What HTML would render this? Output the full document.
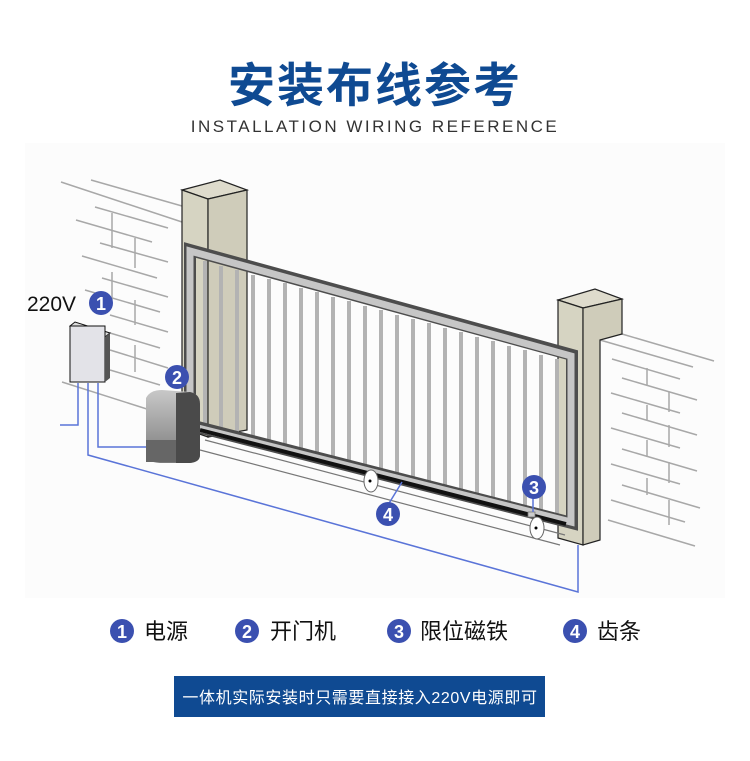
<!DOCTYPE html>
<html><head><meta charset="utf-8"><style>
body{margin:0;background:#fff;width:750px;height:756px;overflow:hidden;font-family:"Liberation Sans","Noto Sans CJK SC",sans-serif}
</style></head><body>
<svg width="750" height="756" viewBox="0 0 750 756" xmlns="http://www.w3.org/2000/svg">
<rect x="25" y="143" width="700" height="455" fill="#fcfcfc"/>
<text x="375" y="102" text-anchor="middle" font-family="Liberation Sans,Noto Sans CJK SC,sans-serif" font-size="47" font-weight="bold" fill="#0f4a92" letter-spacing="2">安装布线参考</text>
<text x="375" y="132" text-anchor="middle" font-family="Liberation Sans,sans-serif" font-size="17" fill="#333" letter-spacing="2.5">INSTALLATION WIRING REFERENCE</text>

<g stroke="#a8a8a8" stroke-width="1.5" fill="none">
<line x1="61" y1="182" x2="182" y2="222"/><line x1="91" y1="180" x2="182" y2="206"/>
<line x1="95" y1="207" x2="168" y2="228"/><line x1="76" y1="220" x2="152" y2="242"/>
<line x1="100" y1="243" x2="168" y2="262"/><line x1="82" y1="256" x2="157" y2="278"/>
<line x1="102" y1="278" x2="168" y2="297"/><line x1="85" y1="290" x2="160" y2="312"/>
<line x1="110" y1="315" x2="168" y2="332"/><line x1="110" y1="333" x2="160" y2="348"/>
<line x1="110" y1="350" x2="168" y2="368"/><line x1="110" y1="370" x2="160" y2="385"/>
<line x1="62" y1="382" x2="150" y2="410"/>
<line x1="112" y1="213" x2="112" y2="248"/><line x1="135" y1="238" x2="135" y2="268"/>
<line x1="112" y1="272" x2="112" y2="300"/><line x1="135" y1="300" x2="135" y2="325"/>
<line x1="135" y1="345" x2="135" y2="372"/>
</g>
<g stroke="#a8a8a8" stroke-width="1.5" fill="none">
<line x1="622" y1="334" x2="714" y2="361"/><line x1="600" y1="340" x2="693" y2="367"/>
<line x1="612" y1="359" x2="680" y2="379"/><line x1="622" y1="378" x2="697" y2="400"/>
<line x1="611" y1="393" x2="680" y2="413"/><line x1="622" y1="413" x2="697" y2="435"/>
<line x1="611" y1="428" x2="680" y2="448"/><line x1="622" y1="449" x2="697" y2="471"/>
<line x1="611" y1="464" x2="680" y2="484"/><line x1="622" y1="485" x2="700" y2="508"/>
<line x1="611" y1="500" x2="685" y2="522"/><line x1="608" y1="520" x2="695" y2="546"/>
<line x1="647" y1="368" x2="647" y2="385"/><line x1="669" y1="392" x2="669" y2="412"/>
<line x1="647" y1="405" x2="647" y2="420"/><line x1="669" y1="425" x2="669" y2="447"/>
<line x1="647" y1="440" x2="647" y2="457"/><line x1="669" y1="462" x2="669" y2="483"/>
<line x1="647" y1="478" x2="647" y2="495"/><line x1="669" y1="500" x2="669" y2="525"/>
</g>
<polygon points="182,190 220,180 247,190 208,199" fill="#dedbcc" stroke="#222" stroke-width="1.2"/>
<polygon points="182,190 208,199 208,437 182,428" fill="#d6d4c2" stroke="#222" stroke-width="1.2"/>
<polygon points="208,199 247,190 247,430 208,437" fill="#cfccba" stroke="#222" stroke-width="1.2"/>
<polygon points="558,300 595,289 622,299 583,308" fill="#dedbcc" stroke="#222" stroke-width="1.2"/>
<polygon points="558,300 583,308 583,545 558,538" fill="#d6d4c2" stroke="#222" stroke-width="1.2"/>
<polygon points="583,308 622,299 622,334 600,340 600,540 583,545" fill="#cfccba" stroke="#222" stroke-width="1.2"/>
<g stroke="#777" stroke-width="1.2">
<line x1="205" y1="440" x2="565" y2="535"/><line x1="200" y1="450" x2="560" y2="545"/>
</g>
<g stroke="#b3b3b3" stroke-width="4">
<line x1="205" y1="261" x2="205" y2="426"/><line x1="221" y1="266" x2="221" y2="430"/>
<line x1="237" y1="270" x2="237" y2="434"/><line x1="253" y1="275" x2="253" y2="438"/>
<line x1="269" y1="279" x2="269" y2="442"/><line x1="285" y1="283" x2="285" y2="446"/>
<line x1="301" y1="288" x2="301" y2="450"/><line x1="317" y1="292" x2="317" y2="454"/>
<line x1="333" y1="297" x2="333" y2="458"/><line x1="349" y1="301" x2="349" y2="462"/>
<line x1="365" y1="306" x2="365" y2="466"/><line x1="381" y1="310" x2="381" y2="470"/>
<line x1="397" y1="315" x2="397" y2="474"/><line x1="413" y1="319" x2="413" y2="478"/>
<line x1="429" y1="323" x2="429" y2="482"/><line x1="445" y1="328" x2="445" y2="486"/>
<line x1="461" y1="332" x2="461" y2="490"/><line x1="477" y1="337" x2="477" y2="494"/>
<line x1="493" y1="341" x2="493" y2="498"/><line x1="509" y1="346" x2="509" y2="502"/>
<line x1="525" y1="350" x2="525" y2="506"/><line x1="541" y1="355" x2="541" y2="511"/>
<line x1="557" y1="359" x2="557" y2="515"/>
</g>
<polygon points="190,250 572,355 572,523 190,425" fill="none" stroke="#4d4d4d" stroke-width="12"/>
<polygon points="190,251 571,356 571,522 190,426" fill="none" stroke="#c6c6c6" stroke-width="7"/>
<line x1="200" y1="430" x2="566" y2="524" stroke="#111" stroke-width="4"/>
<ellipse cx="371" cy="481" rx="7" ry="11" fill="#fff" stroke="#666"/><circle cx="370" cy="481" r="1.5" fill="#000"/>
<ellipse cx="537" cy="528" rx="7" ry="11" fill="#fff" stroke="#666"/><circle cx="536" cy="528" r="1.5" fill="#000"/>
<rect x="528" y="512" width="7" height="5" fill="#ccc" stroke="#777" stroke-width=".8"/>
<g stroke="#5a74d8" stroke-width="1.5" fill="none">
<polyline points="78,383 78,425 60,425"/>
<polyline points="88,383 88,455 578,592 578,545"/>
<polyline points="98,383 98,447 160,447 160,440"/>
<line x1="388" y1="505" x2="402" y2="482"/>
<line x1="533" y1="498" x2="533" y2="512"/>
</g>
<polygon points="70,326 75,322 110,333 105,337" fill="#ddd" stroke="#111" stroke-width="1"/>
<rect x="70" y="326" width="35" height="56" fill="#e3e3e8" stroke="#111" stroke-width="1"/>
<polygon points="105,337 110,333 110,378 105,382" fill="#555"/>
<defs><linearGradient id="mg" x1="0" x2="0" y1="0" y2="1"><stop offset="0" stop-color="#c8c8c8"/><stop offset="1" stop-color="#7a7a7a"/></linearGradient></defs>
<path d="M146,398 Q150,390 162,390 L190,392 Q200,394 200,404 L200,455 Q200,462 190,463 L160,463 Q146,462 146,455 Z" fill="url(#mg)"/>
<path d="M176,393 L190,392 Q200,394 200,404 L200,455 Q200,462 190,463 L176,463 Z" fill="#4a4a4a"/>
<rect x="146" y="440" width="30" height="22" fill="#666"/>
<g font-family="Liberation Sans,sans-serif" font-weight="bold" font-size="18" fill="#fff" text-anchor="middle">
<circle cx="101" cy="303" r="12" fill="#3b50b0"/><text x="101" y="310">1</text>
<circle cx="177" cy="377" r="12" fill="#3b50b0"/><text x="177" y="384">2</text>
<circle cx="534" cy="487" r="12" fill="#3b50b0"/><text x="534" y="494">3</text>
<circle cx="388" cy="514" r="12" fill="#3b50b0"/><text x="388" y="521">4</text>
</g>
<text x="27" y="311" font-family="Liberation Sans,sans-serif" font-size="21" fill="#111">220V</text>
<g font-family="Liberation Sans,sans-serif" font-weight="bold" font-size="18" fill="#fff" text-anchor="middle">
<circle cx="122" cy="631" r="12" fill="#3b50b0"/><text x="122" y="638">1</text>
<circle cx="247" cy="631" r="12" fill="#3b50b0"/><text x="247" y="638">2</text>
<circle cx="399" cy="631" r="12" fill="#3b50b0"/><text x="399" y="638">3</text>
<circle cx="575" cy="631" r="12" fill="#3b50b0"/><text x="575" y="638">4</text>
</g>
<g font-family="Liberation Sans,Noto Sans CJK SC,sans-serif" font-size="22" fill="#111">
<text x="144" y="639">电源</text><text x="270" y="639">开门机</text>
<text x="420" y="639">限位磁铁</text><text x="597" y="639">齿条</text>
</g>
<rect x="174" y="676" width="371" height="41" fill="#0f4a92"/>
<text x="360" y="703" text-anchor="middle" font-family="Liberation Sans,Noto Sans CJK SC,sans-serif" font-size="16" fill="#fff" letter-spacing="0.6">一体机实际安装时只需要直接接入220V电源即可</text>
</svg>
</body></html>
